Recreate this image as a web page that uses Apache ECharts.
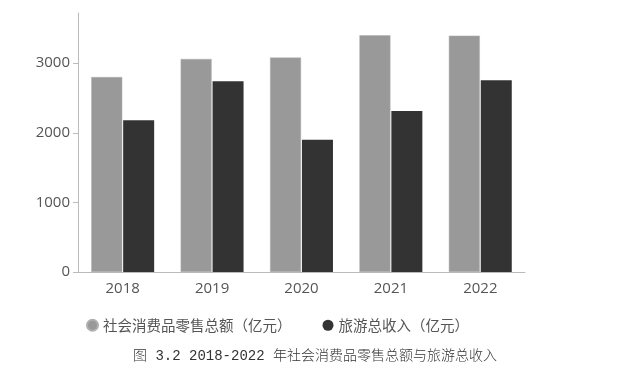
<!DOCTYPE html>
<html><head><meta charset="utf-8">
<script src="https://cdn.jsdelivr.net/npm/echarts@6/dist/echarts.min.js"></script>
<style>html,body{margin:0;padding:0;background:#fff}#c{width:617px;height:371px}</style>
</head><body><div id="c"></div>
<script>
const categories = ['2018', '2019', '2020', '2021', '2022'];
const retailSales = [2800, 3060, 3080, 3400, 3395];
const tourismIncome = [2180, 2740, 1900, 2312, 2755];
const seriesNames = ['社会消费品零售总额（亿元）', '旅游总收入（亿元）'];
const captionText = '图 3.2 2018-2022 年社会消费品零售总额与旅游总收入';

const chart = echarts.init(document.getElementById('c'), null, {renderer: 'canvas'});
chart.setOption({
  animation: false,
  backgroundColor: '#fff',
  textStyle: {fontFamily: "'Open Sans', 'Noto Sans CJK SC', sans-serif"},
  grid: {left: 78, right: 92, top: 13, bottom: 99},
  legend: {
    left: 81, top: 313, itemGap: 31, itemWidth: 11, itemHeight: 11, icon: 'circle',
    textStyle: {fontSize: 14.5, color: '#555', fontFamily: "'Noto Sans CJK SC', sans-serif"},
    data: seriesNames
  },
  graphic: [{
    type: 'text', left: 133, top: 349,
    style: {text: captionText, fontSize: 14, fill: '#333', fontFamily: "'Liberation Mono', 'Noto Sans CJK SC', monospace", fontWeight: 300}
  }],
  xAxis: {
    type: 'category', data: categories,
    axisLine: {lineStyle: {color: '#bbb'}},
    axisTick: {alignWithLabel: true, length: 5, lineStyle: {color: '#bbb'}},
    axisLabel: {fontSize: 15, color: '#555', margin: 9}
  },
  yAxis: {
    type: 'value', min: 0, max: 3720, interval: 1000,
    axisLine: {show: true, lineStyle: {color: '#bbb'}},
    axisTick: {show: true, length: 5, lineStyle: {color: '#bbb'}},
    splitLine: {show: false},
    axisLabel: {fontSize: 15, color: '#555', margin: 8, showMaxLabel: false, formatter: v => String(v)}
  },
  series: [
    {name: seriesNames[0], type: 'bar', data: retailSales, barWidth: 31, barGap: '3%',
     itemStyle: {color: '#999999', borderColor: '#b0b0b0', borderWidth: 0.5}},
    {name: seriesNames[1], type: 'bar', data: tourismIncome, barWidth: 31,
     itemStyle: {color: '#333333'}}
  ]
});
</script></body></html>
